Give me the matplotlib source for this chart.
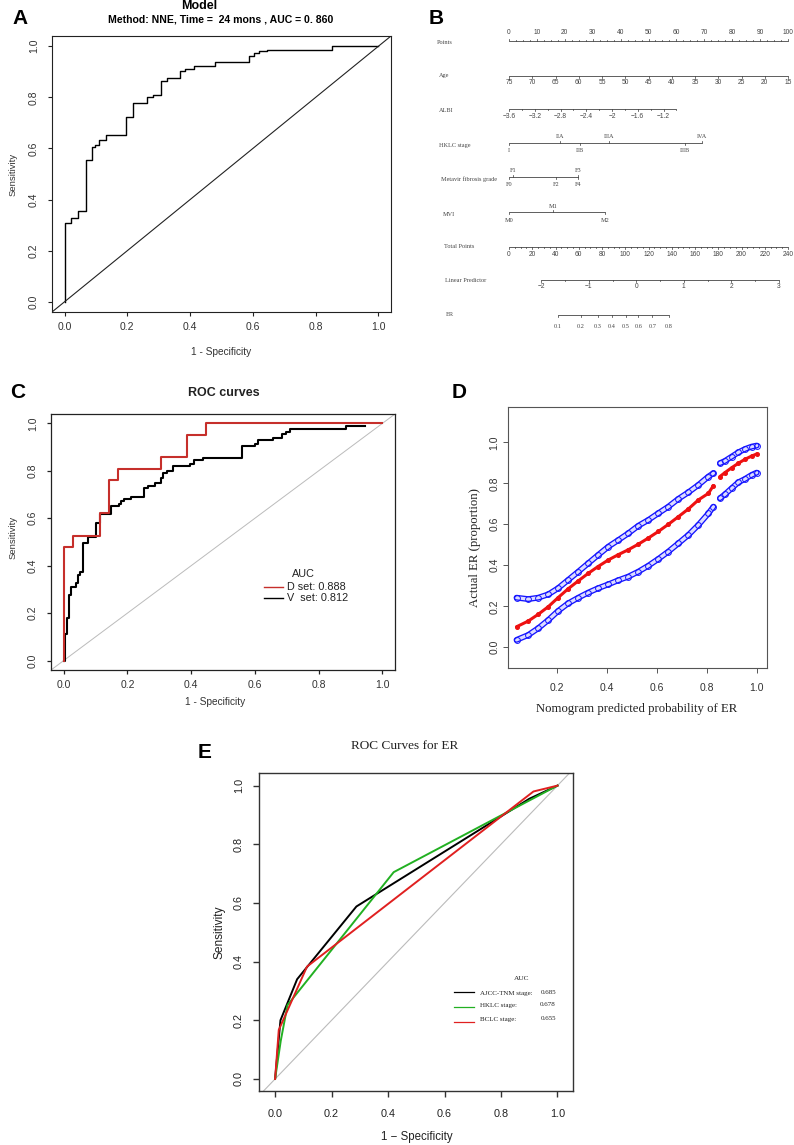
import numpy as np
import matplotlib
matplotlib.use('Agg')
import matplotlib.pyplot as plt
from matplotlib import font_manager

W, H, DPI = 794, 1145, 100

# ---------------- DATA ----------------
# Panel A: survival ROC (NNE, 24 months)
a_fpr = [0, 0, 0.021, 0.044, 0.067, 0.086, 0.098, 0.111, 0.131, 0.196, 0.219, 0.262, 0.281,
         0.306, 0.326, 0.369, 0.384, 0.411, 0.479, 0.588, 0.604, 0.618, 0.644, 0.851, 1.0]
a_tpr = [0, 0.309, 0.327, 0.354, 0.556, 0.606, 0.615, 0.634, 0.653, 0.722, 0.778, 0.80, 0.81,
         0.865, 0.874, 0.905, 0.912, 0.922, 0.94, 0.963, 0.975, 0.98, 0.986, 1.0, 1.0]

# Panel B: nomogram
points_labels = list(range(0, 101, 10))
age_labels = [75, 70, 65, 60, 55, 50, 45, 40, 35, 30, 25, 20, 15]
age_range = [75, 15]            # -> points 0 .. 100
albi_labels = [-3.6, -3.2, -2.8, -2.4, -2.0, -1.6, -1.2]
albi_range = [-3.6, -1.0]
albi_points_range = [0, 60.0]
hklc_labels = ['I', 'IIA', 'IIB', 'IIIA', 'IIIB', 'IVA']
hklc_points = [0, 18.2, 25.4, 35.8, 63.2, 69.3]
hklc_upper = [False, True, False, True, False, True]
metavir_labels = ['F0', 'F1', 'F2', 'F3', 'F4']
metavir_points = [0, 1.6, 16.8, 24.6, 24.6]
metavir_upper = [False, True, False, True, False]
mvi_labels = ['M0', 'M1', 'M2']
mvi_points = [0, 15.8, 34.5]
mvi_upper = [False, True, False]
total_labels = list(range(0, 241, 20))
total_range = [0, 240]
lp_labels = [-2, -1, 0, 1, 2, 3]
lp_points_range = [11.6, 96.7]   # lp -2 .. 3
er_labels = [0.1, 0.2, 0.3, 0.4, 0.5, 0.6, 0.7, 0.8]
er_points = [17.6, 25.7, 31.8, 36.9, 41.8, 46.4, 51.4, 57.3]

# Panel C: ROC curves, derivation / validation
c_d_fpr = [0, 0, 0.029, 0.113, 0.141, 0.169, 0.306, 0.388, 0.446, 1.0]
c_d_tpr = [0, 0.477, 0.524, 0.621, 0.762, 0.81, 0.859, 0.952, 1.0, 1.0]
c_v_fpr = [0, 0.003, 0.010, 0.016, 0.023, 0.040, 0.044, 0.052, 0.060, 0.075, 0.102, 0.113,
           0.149, 0.172, 0.180, 0.190, 0.211, 0.253, 0.263, 0.287, 0.306, 0.313, 0.324, 0.344,
           0.395, 0.409, 0.436, 0.561, 0.600, 0.611, 0.658, 0.684, 0.697, 0.710, 0.887, 0.947]
c_v_tpr = [0, 0.111, 0.18, 0.276, 0.311, 0.325, 0.36, 0.375, 0.494, 0.52, 0.579, 0.62,
           0.652, 0.662, 0.672, 0.68, 0.69, 0.727, 0.738, 0.75, 0.77, 0.79, 0.80, 0.82,
           0.83, 0.845, 0.855, 0.906, 0.915, 0.93, 0.94, 0.955, 0.965, 0.975, 0.99, 0.99]
c_legend = ['D set: 0.888', 'V  set: 0.812']

# Panel D: calibration
cal_pred = [0.04, 0.087, 0.127, 0.167, 0.206, 0.246, 0.287, 0.327, 0.366, 0.407, 0.447, 0.487,
            0.527, 0.567, 0.607, 0.647, 0.687, 0.727, 0.767, 0.807, 0.827, 0.853, 0.873, 0.9,
            0.927, 0.953, 0.98, 1.0]
cal_upper = [0.242, 0.235, 0.242, 0.258, 0.288, 0.328, 0.369, 0.41, 0.45, 0.491, 0.523, 0.556,
             0.593, 0.621, 0.654, 0.686, 0.724, 0.756, 0.792, 0.833, 0.849, 0.898, 0.909, 0.93,
             0.951, 0.967, 0.979, 0.984]
cal_mid = [0.1, 0.128, 0.161, 0.198, 0.242, 0.285, 0.324, 0.361, 0.394, 0.426, 0.452, 0.476,
           0.503, 0.533, 0.565, 0.6, 0.637, 0.675, 0.719, 0.751, 0.789, 0.833, 0.852, 0.876,
           0.898, 0.917, 0.933, 0.943]
cal_lower = [0.036, 0.06, 0.093, 0.133, 0.177, 0.214, 0.242, 0.267, 0.288, 0.307, 0.327, 0.345,
             0.369, 0.398, 0.431, 0.467, 0.507, 0.548, 0.597, 0.653, 0.686, 0.727, 0.746, 0.776,
             0.805, 0.821, 0.841, 0.852]

# Panel E: ROC curves for staging systems
e_tnm_fpr = [0, 0.019, 0.078, 0.288, 0.9, 1.0]
e_tnm_tpr = [0, 0.2, 0.34, 0.588, 0.955, 1.0]
e_hklc_fpr = [0, 0.02, 0.044, 0.42, 1.0]
e_hklc_tpr = [0, 0.13, 0.252, 0.705, 1.0]
e_bclc_fpr = [0, 0.013, 0.113, 0.915, 1.0]
e_bclc_tpr = [0, 0.167, 0.383, 0.98, 1.0]
e_names = ['AJCC-TNM stage:', 'HKLC stage:', 'BCLC stage:']
e_aucs = ['0.685', '0.678', '0.655']

# ---------------- STYLE ----------------
names = {f.name for f in font_manager.fontManager.ttflist}
SANS = ['Liberation Sans', 'DejaVu Sans']
SERIF = ['Liberation Serif', 'DejaVu Serif']
if 'Liberation Sans Narrow' in names:
    NARROW = ['Liberation Sans Narrow', 'Liberation Sans', 'DejaVu Sans']
    e_fs = 9.3
else:
    NARROW = SANS
    e_fs = 7.8
plt.rcParams['font.family'] = SANS

fig = plt.figure(figsize=(W / DPI, H / DPI), dpi=DPI)


def box(l, t, r, b):
    return fig.add_axes([l / W, 1 - b / H, (r - l) / W, (b - t) / H])


def ftext(x, y, s, **kw):
    kw.setdefault('ha', 'center')
    kw.setdefault('va', 'center')
    fig.text(x / W, 1 - y / H, s, **kw)


def r_axes(ax, xlim, ylim, xticks, yticks, fs, xpad, ypad, tlen, lw, color, tcolor, family):
    ax.set_xlim(xlim)
    ax.set_ylim(ylim)
    ax.set_xticks(xticks)
    ax.set_yticks(yticks)
    ax.set_xticklabels([f'{v:.1f}' for v in xticks], family=family, fontsize=fs, color=tcolor)
    ax.set_yticklabels([f'{v:.1f}' for v in yticks], family=family, fontsize=fs, color=tcolor,
                       rotation=90, va='center')
    ax.tick_params(axis='x', direction='out', length=tlen * 0.72, width=lw, color=color, pad=xpad)
    ax.tick_params(axis='y', direction='out', length=tlen * 0.72, width=lw, color=color, pad=ypad)
    for s in ax.spines.values():
        s.set_linewidth(lw)
        s.set_color(color)


# ---------------- PANEL A ----------------
axA = box(52, 36, 391, 312)
axA.plot(a_fpr, a_tpr, drawstyle='steps-post', color='black', lw=1.0)
axA.axline((0, 0), slope=1, color='#222222', lw=0.8)
r_axes(axA, (-0.04, 1.04), (-0.04, 1.04), np.arange(0, 1.01, 0.2), np.arange(0, 1.01, 0.2),
       7.5, 4.5, 6.5, 4, 0.8, '#222222', '#333333', SANS)
ftext(199, 6, 'Model', fontsize=9, fontweight='bold')
ftext(221, 20, 'Method: NNE, Time =  24 mons , AUC = 0. 860', fontsize=7.6, fontweight='bold')
ftext(221, 352, '1 - Specificity', fontsize=7.3, color='#333333')
ftext(13, 174, 'Sensitivity', fontsize=6.8, rotation=90, color='#333333')
ftext(20, 19, 'A', fontsize=15, fontweight='bold')

# ---------------- PANEL B (nomogram) ----------------
P0, P100 = 509, 788


def px2pt(px):
    return (px - P0) * 100.0 / (P100 - P0)


axB = box(400, 0, 794, 340)
axB.set_xlim(px2pt(400), px2pt(794))
axB.set_ylim(340, 0)
axB.axis('off')
NC = '#444444'
NLW = 0.6
nfs_num = 4.8
nfs_lab = 4.5


def hline(y, x0, x1):
    axB.plot([x0, x1], [y, y], color=NC, lw=NLW, solid_capstyle='butt')


def tick(x, y, d):
    axB.plot([x, x], [y, y + d], color=NC, lw=NLW * 0.9)


def row_label(y, s, xpx):
    axB.text(px2pt(xpx), y, s, family=SERIF, fontsize=nfs_lab, color=NC, ha='left', va='center')


# Points
yP = 41
hline(yP, 0, 100)
for v in np.arange(0, 100.01, 2.5):
    tick(v, yP, -1.3 if v % 10 else -2.2)
for v in points_labels:
    axB.text(v, yP - 8, str(v), fontsize=nfs_num, color=NC, ha='center', va='center')
row_label(yP + 1, 'Points', 437)

# Age
yA = 76
hline(yA, 0, 100)
for v in age_labels:
    p = np.interp(v, age_range[::-1], [100, 0])
    tick(p, yA, 2.2)
    axB.text(p, yA + 7, str(v), fontsize=nfs_num, color=NC, ha='center', va='center')
row_label(yA, 'Age', 439)

# ALBI
yL = 109
hline(yL, albi_points_range[0], albi_points_range[1])
for v in np.arange(albi_range[0], albi_range[1] + 0.001, 0.2):
    p = np.interp(v, albi_range, albi_points_range)
    tick(p, yL, 2.2 if abs(round(v / 0.4) * 0.4 - v) < 1e-6 else 1.4)
for v in albi_labels:
    p = np.interp(v, albi_range, albi_points_range)
    lab = f'{v:g}'.replace('-', '\u2212')
    axB.text(p, yL + 7, lab, fontsize=nfs_num, color=NC, ha='center', va='center')
row_label(yL + 2, 'ALBI', 439)


def cat_row(y, labels, pts, upper, name, xpx):
    hline(y, min(pts), max(pts))
    for lab, p, up in zip(labels, pts, upper):
        tick(p, y, -2.0 if up else 2.0)
        axB.text(p, y - 6 if up else y + 8, lab, family=SERIF, fontsize=nfs_lab, color=NC,
                 ha='center', va='center')
    row_label(y + 2, name, xpx)


cat_row(143, hklc_labels, hklc_points, hklc_upper, 'HKLC stage', 439)
cat_row(177, metavir_labels, metavir_points, metavir_upper, 'Metavir fibrosis grade', 441)
cat_row(212, mvi_labels, mvi_points, mvi_upper, 'MVI', 443)

# Total points
yT = 247
hline(yT, 0, 100)
for v in np.arange(0, 240.01, 5):
    p = np.interp(v, total_range, [0, 100])
    tick(p, yT, 2.2 if v % 20 == 0 else 1.3)
for v in total_labels:
    p = np.interp(v, total_range, [0, 100])
    axB.text(p, yT + 7, str(v), fontsize=nfs_num, color=NC, ha='center', va='center')
row_label(yT - 1, 'Total Points', 444)

# Linear predictor
yLP = 280
hline(yLP, lp_points_range[0], lp_points_range[1])
for v in np.arange(-2, 3.01, 0.5):
    p = np.interp(v, [-2, 3], lp_points_range)
    tick(p, yLP, 2.2 if v == int(v) else 1.4)
for v in lp_labels:
    p = np.interp(v, [-2, 3], lp_points_range)
    axB.text(p, yLP + 7, str(v).replace('-', '\u2212'), fontsize=nfs_num, color=NC,
             ha='center', va='center')
row_label(yLP + 1, 'Linear Predictor', 445)

# ER
yE = 315
hline(yE, min(er_points), max(er_points))
for v, p in zip(er_labels, er_points):
    tick(p, yE, 2.0)
    axB.text(p, yE + 11, f'{v:.1f}', family=SERIF, fontsize=nfs_lab, color=NC,
             ha='center', va='center')
row_label(yE, 'ER', 446)

ftext(436, 19, 'B', fontsize=15, fontweight='bold')

# ---------------- PANEL C ----------------
axC = box(51, 414, 395, 670)
axC.axline((0, 0), slope=1, color='#bbbbbb', lw=0.7)
axC.plot(c_v_fpr, c_v_tpr, drawstyle='steps-post', color='black', lw=1.5)
axC.plot(c_d_fpr, c_d_tpr, drawstyle='steps-post', color='#c62f2b', lw=1.5)
r_axes(axC, (-0.04, 1.04), (-0.04, 1.04), np.arange(0, 1.01, 0.2), np.arange(0, 1.01, 0.2),
       7.5, 4.5, 6.5, 4, 0.9, '#222222', '#333333', SANS)
ftext(224, 393, 'ROC curves', fontsize=9, fontweight='bold', color='#222222')
ftext(215, 702, '1 - Specificity', fontsize=7.3, color='#333333')
ftext(13, 537, 'Sensitivity', fontsize=6.8, rotation=90, color='#333333')
ftext(18, 392, 'C', fontsize=15, fontweight='bold')
# legend
ftext(303, 574, 'AUC', fontsize=7.8, color='#222222')
for i, (lab, col) in enumerate(zip(c_legend, ['#c62f2b', 'black'])):
    yy = 587 + 11 * i
    fig.add_artist(plt.Line2D([264 / W, 283 / W], [1 - yy / H, 1 - yy / H], color=col, lw=1.0))
    ftext(287, yy, lab, fontsize=7.8, ha='left', color='#222222')

# ---------------- PANEL D ----------------
axD = box(508, 407, 767, 668)
xd = np.asarray(cal_pred)
gap = (0.835, 0.845)
for yv in (cal_upper, cal_lower):
    yv = np.asarray(yv)
    for m in (xd <= gap[0], xd >= gap[1]):
        axD.plot(xd[m], yv[m], color='#1414ff', lw=4.2, solid_capstyle='round')
        axD.plot(xd[m], yv[m], color='#dcdcff', lw=2.3, solid_capstyle='round')
    axD.plot(xd, yv, ls='none', marker='o', ms=4.2, mfc='none', mec='#1414ff', mew=0.7)
ym = np.asarray(cal_mid)
for m in (xd <= gap[0], xd >= gap[1]):
    axD.plot(xd[m], ym[m], color='#ee1111', lw=2.2, solid_capstyle='round')
axD.plot(xd, ym, ls='none', marker='o', ms=2.6, color='#ee1111')
axD.set_xlim(0.006, 1.041)
axD.set_ylim(-0.101, 1.172)
axD.set_xticks(np.arange(0.2, 1.01, 0.2))
axD.set_xticklabels([f'{v:.1f}' for v in np.arange(0.2, 1.01, 0.2)], fontsize=7.5, color='#333333')
axD.set_yticks(np.arange(0, 1.01, 0.2))
axD.set_yticklabels([f'{v:.1f}' for v in np.arange(0, 1.01, 0.2)], fontsize=7.5,
                    color='#333333', rotation=90, va='center')
axD.tick_params(axis='x', length=5 * 0.72, width=0.7, color='#555555', pad=7)
axD.tick_params(axis='y', length=5 * 0.72, width=0.7, color='#555555', pad=2.5)
for s in axD.spines.values():
    s.set_linewidth(0.8)
    s.set_color('#555555')
ftext(637, 709, 'Nomogram predicted probability of ER', family=SERIF, fontsize=9.2, color='#222222')
ftext(475, 548, 'Actual ER (proportion)', family=SERIF, fontsize=9.2, rotation=90, color='#222222')
ftext(459, 392, 'D', fontsize=15, fontweight='bold')

# ---------------- PANEL E ----------------
axE = box(259, 773, 573, 1091)
axE.axline((0, 0), slope=1, color='#bbbbbb', lw=0.8)
axE.plot(e_tnm_fpr, e_tnm_tpr, color='black', lw=1.4)
axE.plot(e_hklc_fpr, e_hklc_tpr, color='#22b022', lw=1.4)
axE.plot(e_bclc_fpr, e_bclc_tpr, color='#e02020', lw=1.4)
r_axes(axE, (-0.057, 1.055), (-0.041, 1.043), np.arange(0, 1.01, 0.2), np.arange(0, 1.01, 0.2),
       e_fs, 8.5, 6.5, 6, 1.0, '#333333', '#222222', NARROW)
ftext(405, 746, 'ROC Curves for ER', family=SERIF, fontsize=9.5, color='#222222')
ftext(417, 1137, '1 \u2212 Specificity', family=NARROW, fontsize=e_fs + 0.5, color='#222222')
ftext(220, 932, 'Sensitivity', family=NARROW, fontsize=e_fs + 0.8, rotation=90, color='#222222')
ftext(205, 752, 'E', fontsize=15, fontweight='bold')
# legend
ftext(522, 978, 'AUC', family=SERIF, fontsize=5.3, color='#222222')
e_cols = ['black', '#22b022', '#e02020']
line_y = [992, 1007, 1022]
text_y = [993, 1005, 1019]
for nm, auc, col, ly, ty in zip(e_names, e_aucs, e_cols, line_y, text_y):
    fig.add_artist(plt.Line2D([454 / W, 474 / W], [1 - ly / H, 1 - ly / H], color=col, lw=0.9))
    ftext(480, ty, nm, family=SERIF, fontsize=5.0, ha='left', color='#222222')
    ftext(556, ty, auc, family=SERIF, fontsize=5.0, ha='right', color='#222222')

fig.savefig('out.png', dpi=DPI)
